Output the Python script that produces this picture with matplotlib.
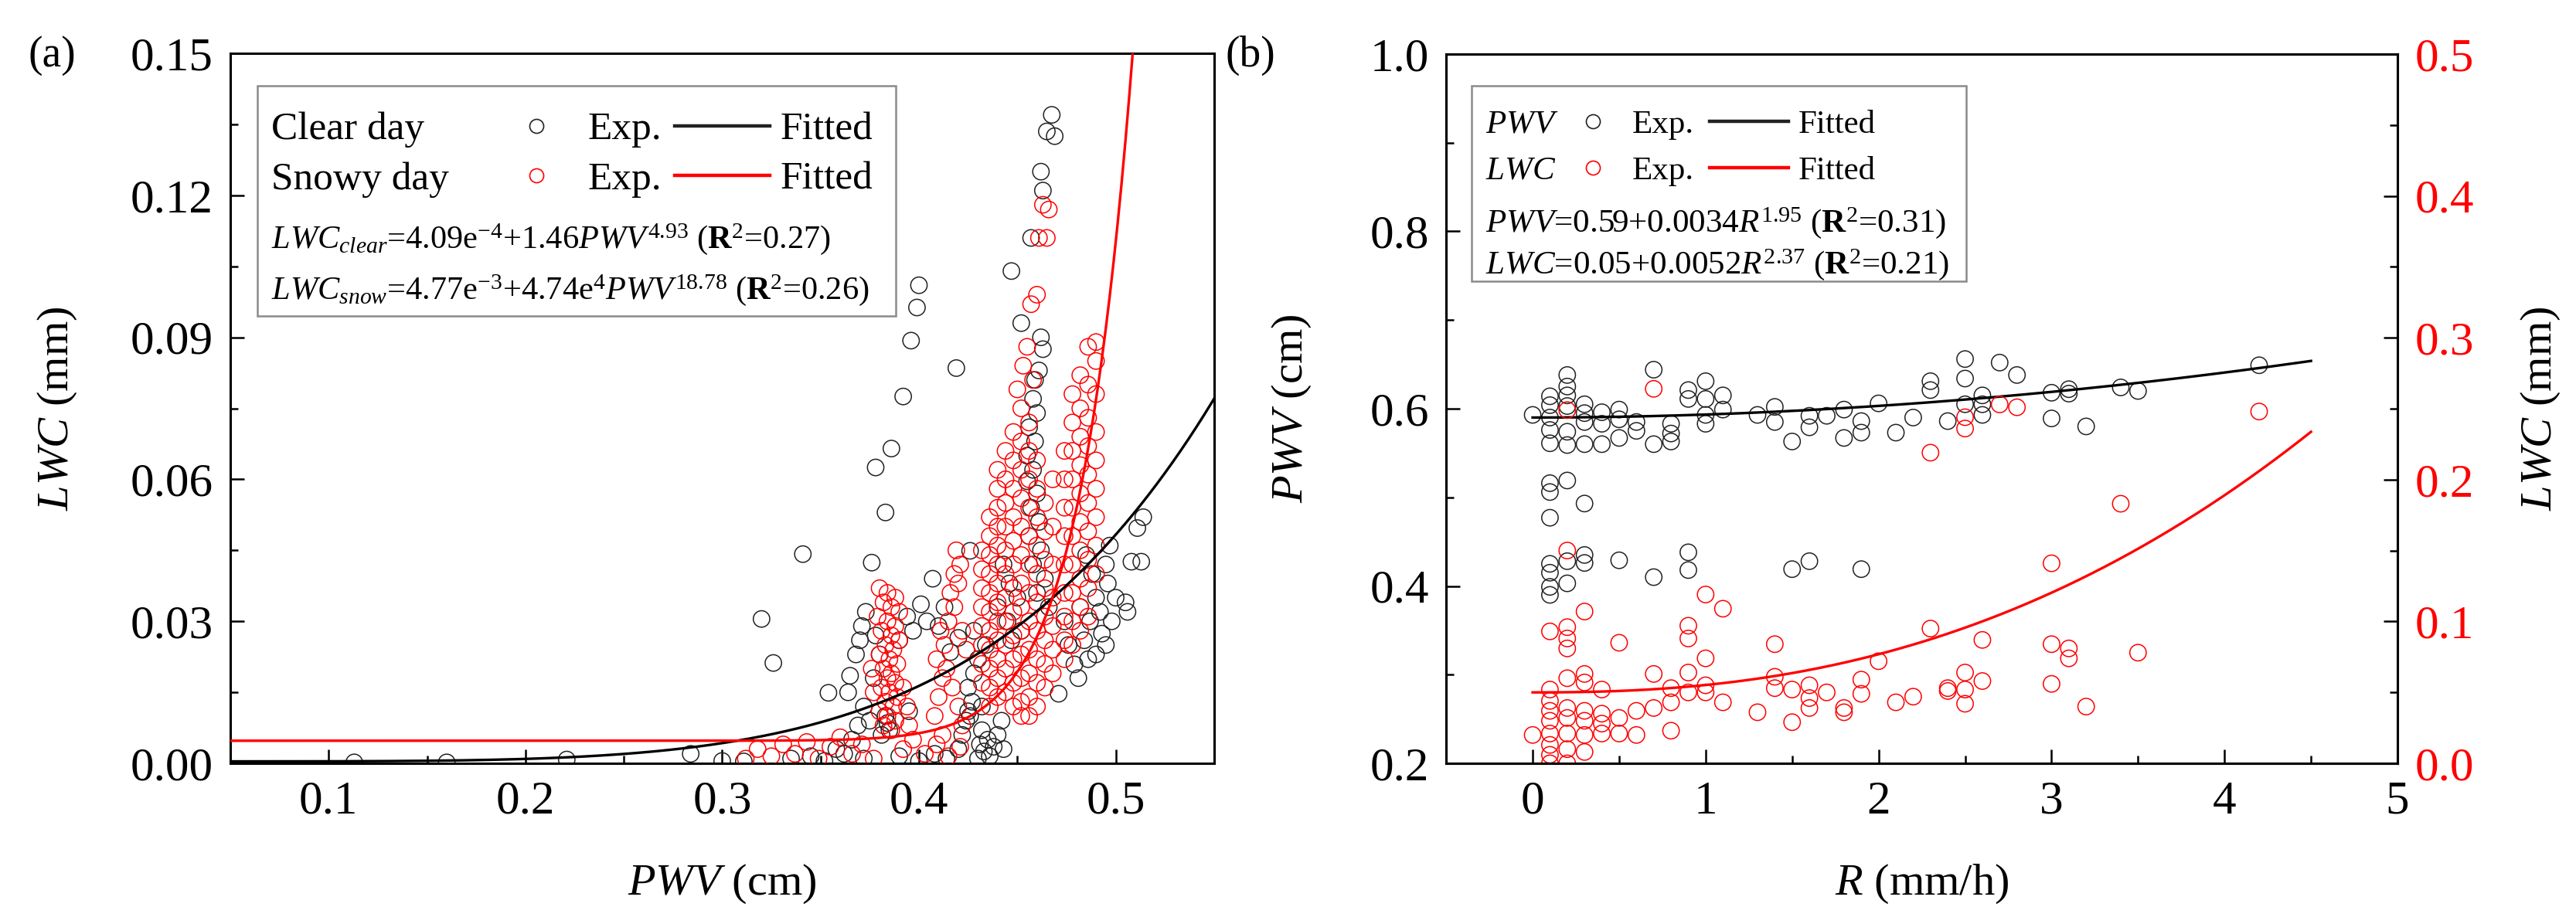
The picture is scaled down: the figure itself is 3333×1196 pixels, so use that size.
import numpy as np
import matplotlib.pyplot as plt
from matplotlib.patches import Rectangle
from matplotlib.ticker import MultipleLocator, FormatStrFormatter

plt.rcParams['font.family'] = ['Liberation Serif', 'DejaVu Serif']
plt.rcParams['mathtext.fontset'] = 'custom'
plt.rcParams['mathtext.rm'] = 'Liberation Serif'
plt.rcParams['mathtext.it'] = 'Liberation Serif:italic'
plt.rcParams['mathtext.bf'] = 'Liberation Serif:bold'

# ---------------- panel (a): LWC vs PWV ----------------
# clear day (PWV cm, LWC mm)
clear_points = [
    (0.113, 0.0002), (0.160, 0.0002), (0.221, 0.0008), (0.284, 0.0020), (0.300, 0.0005), (0.311, 0.0004),
    (0.320, 0.0305), (0.326, 0.0212), (0.341, 0.0442), (0.354, 0.0149), (0.362, 0.0020), (0.372, 0.0010),
    (0.376, 0.0424), (0.378, 0.0625), (0.383, 0.0530), (0.386, 0.0665), (0.392, 0.0775), (0.396, 0.0893),
    (0.399, 0.0963), (0.400, 0.1010), (0.419, 0.0835), (0.426, 0.0449), (0.407, 0.0390), (0.401, 0.0336),
    (0.404, 0.0300), (0.395, 0.0110),
    (0.373, 0.0320), (0.371, 0.0290), (0.370, 0.0260), (0.368, 0.0230), (0.365, 0.0185), (0.364, 0.0150),
    (0.372, 0.0120), (0.375, 0.0090), (0.378, 0.0270), (0.380, 0.0230), (0.377, 0.0180), (0.381, 0.0060),
    (0.369, 0.0080), (0.366, 0.0050), (0.383, 0.0100), (0.384, 0.0085), (0.385, 0.0070),
    (0.394, 0.0310), (0.410, 0.0290), (0.397, 0.0280), (0.390, 0.0260),
    (0.335, 0.0010), (0.345, 0.0015), (0.352, 0.0005), (0.358, 0.0030), (0.390, 0.0015), (0.400, 0.0005),
    (0.408, 0.0020), (0.414, 0.0010),
    (0.420, 0.0030), (0.422, 0.0060), (0.424, 0.0090), (0.425, 0.0110), (0.426, 0.0100), (0.427, 0.0130),
    (0.425, 0.0160), (0.428, 0.0190), (0.430, 0.0010), (0.431, 0.0040), (0.432, 0.0070), (0.433, 0.0025),
    (0.435, 0.0050), (0.436, 0.0015), (0.438, 0.0035), (0.440, 0.0060), (0.442, 0.0090), (0.443, 0.0030),
    (0.430, 0.0220), (0.434, 0.0250), (0.428, 0.0280), (0.432, 0.0120),
    (0.440, 0.0330), (0.445, 0.0300), (0.447, 0.0260), (0.450, 0.0350), (0.452, 0.0280), (0.446, 0.0380),
    (0.443, 0.0420), (0.420, 0.0265), (0.416, 0.0235), (0.413, 0.0330),
    (0.4675, 0.1370), (0.465, 0.1335), (0.469, 0.1325), (0.462, 0.1250), (0.463, 0.1210), (0.457, 0.1110),
    (0.447, 0.1040), (0.452, 0.0930), (0.462, 0.0900), (0.463, 0.0875), (0.461, 0.0830), (0.459, 0.0810),
    (0.458, 0.0770), (0.460, 0.0740), (0.456, 0.0710), (0.459, 0.0680), (0.455, 0.0650), (0.458, 0.0620),
    (0.455, 0.0596), (0.460, 0.0570), (0.457, 0.0540), (0.461, 0.0510), (0.456, 0.0480), (0.462, 0.0450),
    (0.458, 0.0420), (0.464, 0.0390), (0.460, 0.0360), (0.466, 0.0330),
    (0.514, 0.0520), (0.511, 0.0497), (0.508, 0.0426), (0.513, 0.0426), (0.505, 0.0340), (0.506, 0.0320),
    (0.495, 0.0420), (0.496, 0.0380), (0.493, 0.0274), (0.495, 0.0250), (0.479, 0.0209), (0.471, 0.0147),
    (0.490, 0.0350), (0.487, 0.0300), (0.484, 0.0260), (0.490, 0.0230), (0.486, 0.0220), (0.482, 0.0330),
    (0.498, 0.0300), (0.500, 0.0350), (0.492, 0.0320), (0.488, 0.0400), (0.485, 0.0440), (0.497, 0.0460),
    (0.476, 0.0250), (0.481, 0.0180), (0.474, 0.0300),
]

# snowy day (PWV cm, LWC mm)
snow_points = [
    (0.312, 0.0010), (0.318, 0.0030), (0.325, 0.0015), (0.331, 0.0040), (0.337, 0.0020), (0.343, 0.0045),
    (0.349, 0.0010), (0.355, 0.0035), (0.360, 0.0055), (0.366, 0.0020), (0.371, 0.0040), (0.377, 0.0010),
    (0.392, 0.0030), (0.397, 0.0050), (0.403, 0.0020), (0.409, 0.0040), (0.415, 0.0015), (0.421, 0.0035),
    (0.380, 0.0370), (0.384, 0.0360), (0.388, 0.0350), (0.382, 0.0340), (0.386, 0.0330), (0.390, 0.0320),
    (0.379, 0.0310), (0.384, 0.0300), (0.388, 0.0290), (0.381, 0.0280), (0.386, 0.0270), (0.390, 0.0260),
    (0.383, 0.0250), (0.387, 0.0240), (0.380, 0.0230), (0.385, 0.0220), (0.389, 0.0210), (0.382, 0.0200),
    (0.386, 0.0190), (0.384, 0.0180), (0.388, 0.0170), (0.381, 0.0160), (0.385, 0.0150), (0.389, 0.0140),
    (0.383, 0.0130), (0.387, 0.0120), (0.380, 0.0110), (0.384, 0.0100), (0.388, 0.0090), (0.382, 0.0080),
    (0.386, 0.0070), (0.376, 0.0200), (0.377, 0.0150), (0.392, 0.0160), (0.394, 0.0120), (0.395, 0.0080),
    (0.408, 0.0100), (0.410, 0.0140), (0.412, 0.0180), (0.409, 0.0220), (0.413, 0.0250), (0.411, 0.0280),
    (0.415, 0.0300), (0.418, 0.0330), (0.416, 0.0360), (0.420, 0.0380), (0.418, 0.0400), (0.421, 0.0420),
    (0.419, 0.0450), (0.414, 0.0200), (0.417, 0.0160), (0.420, 0.0120), (0.422, 0.0080), (0.424, 0.0240),
    (0.422, 0.0280), (0.412, 0.0060),
    (0.432, 0.045), (0.432, 0.041), (0.432, 0.037), (0.432, 0.033), (0.432, 0.029), (0.432, 0.025),
    (0.432, 0.021), (0.432, 0.017),
    (0.436, 0.052), (0.436, 0.048), (0.436, 0.044), (0.436, 0.040), (0.436, 0.036), (0.436, 0.032),
    (0.436, 0.028), (0.436, 0.024), (0.436, 0.020), (0.436, 0.016), (0.436, 0.012),
    (0.440, 0.062), (0.440, 0.058), (0.440, 0.054), (0.440, 0.050), (0.440, 0.046), (0.440, 0.042),
    (0.440, 0.038), (0.440, 0.034), (0.440, 0.030), (0.440, 0.026), (0.440, 0.022), (0.440, 0.018),
    (0.440, 0.014),
    (0.444, 0.066), (0.444, 0.060), (0.444, 0.055), (0.444, 0.050), (0.444, 0.045), (0.444, 0.040),
    (0.444, 0.035), (0.444, 0.030), (0.444, 0.025), (0.444, 0.020), (0.444, 0.015),
    (0.448, 0.070), (0.448, 0.064), (0.448, 0.058), (0.448, 0.052), (0.448, 0.047), (0.448, 0.042),
    (0.448, 0.037), (0.448, 0.032), (0.448, 0.027), (0.448, 0.022), (0.448, 0.017), (0.448, 0.012),
    (0.452, 0.075), (0.452, 0.068), (0.452, 0.062), (0.452, 0.056), (0.452, 0.050), (0.452, 0.044),
    (0.452, 0.038), (0.452, 0.033), (0.452, 0.028), (0.452, 0.023), (0.452, 0.018), (0.452, 0.013),
    (0.452, 0.010),
    (0.456, 0.072), (0.456, 0.066), (0.456, 0.060), (0.456, 0.054), (0.456, 0.048), (0.456, 0.042),
    (0.456, 0.036), (0.456, 0.030), (0.456, 0.024), (0.456, 0.019), (0.456, 0.014), (0.456, 0.010),
    (0.460, 0.064), (0.460, 0.058), (0.460, 0.052), (0.460, 0.046), (0.460, 0.040), (0.460, 0.034),
    (0.460, 0.028), (0.460, 0.022), (0.460, 0.017), (0.460, 0.012),
    (0.464, 0.055), (0.464, 0.049), (0.464, 0.043), (0.464, 0.037), (0.464, 0.031), (0.464, 0.026),
    (0.464, 0.021), (0.464, 0.016),
    (0.468, 0.060), (0.468, 0.050), (0.468, 0.042), (0.468, 0.035), (0.468, 0.029), (0.468, 0.024),
    (0.468, 0.019),
    (0.474, 0.066), (0.474, 0.060), (0.474, 0.054), (0.474, 0.048), (0.474, 0.042), (0.474, 0.036),
    (0.474, 0.031), (0.474, 0.026), (0.474, 0.022),
    (0.478, 0.078), (0.478, 0.072), (0.478, 0.066), (0.478, 0.060), (0.478, 0.054), (0.478, 0.048),
    (0.478, 0.042), (0.478, 0.036), (0.478, 0.030), (0.478, 0.025),
    (0.482, 0.082), (0.482, 0.075), (0.482, 0.069), (0.482, 0.063), (0.482, 0.057), (0.482, 0.051),
    (0.482, 0.045), (0.482, 0.039), (0.482, 0.033), (0.482, 0.028),
    (0.486, 0.088), (0.486, 0.080), (0.486, 0.073), (0.486, 0.067), (0.486, 0.061), (0.486, 0.055),
    (0.486, 0.049), (0.486, 0.043), (0.486, 0.037), (0.486, 0.031),
    (0.490, 0.089), (0.490, 0.085), (0.490, 0.078), (0.490, 0.070), (0.490, 0.064), (0.490, 0.058),
    (0.490, 0.052), (0.490, 0.046), (0.490, 0.040),
    (0.463, 0.118), (0.466, 0.117), (0.461, 0.111), (0.465, 0.111), (0.460, 0.099), (0.457, 0.097),
    (0.455, 0.088), (0.453, 0.084), (0.450, 0.079), (0.458, 0.081),
]

# fitted curves  y = a + b * x**c
clear_fit = [4.09e-4, 1.46, 4.93]
snow_fit = [4.77e-3, 4.74e4, 18.78]

# ---------------- panel (b): PWV / LWC vs R ----------------
rain_pwv_points = [
    (0.0, 0.593), (0.1, 0.614), (0.1, 0.604), (0.1, 0.590), (0.1, 0.576), (0.1, 0.561), (0.2, 0.638),
    (0.2, 0.625), (0.2, 0.615), (0.2, 0.603), (0.2, 0.574), (0.2, 0.559), (0.3, 0.605), (0.3, 0.595),
    (0.3, 0.585), (0.3, 0.560), (0.4, 0.596), (0.4, 0.583), (0.4, 0.560), (0.5, 0.599), (0.5, 0.588),
    (0.5, 0.567), (0.6, 0.585), (0.6, 0.575), (0.7, 0.644), (0.7, 0.560), (0.8, 0.583), (0.8, 0.572),
    (0.8, 0.563), (0.9, 0.621), (0.9, 0.611), (1.0, 0.631), (1.0, 0.611), (1.0, 0.593), (1.0, 0.583),
    (1.1, 0.615), (1.1, 0.599), (1.3, 0.593), (1.4, 0.602), (1.4, 0.585), (1.5, 0.563), (1.6, 0.592),
    (1.6, 0.579), (1.7, 0.592), (1.8, 0.599), (1.8, 0.567), (1.9, 0.586), (1.9, 0.573), (2.0, 0.606),
    (2.1, 0.573), (2.2, 0.590), (2.3, 0.631), (2.3, 0.621), (2.4, 0.586), (2.5, 0.656), (2.5, 0.634),
    (2.5, 0.605), (2.6, 0.615), (2.6, 0.605), (2.6, 0.593), (2.7, 0.652), (2.8, 0.638), (3.0, 0.618),
    (3.0, 0.589), (3.1, 0.622), (3.1, 0.617), (3.2, 0.580), (3.4, 0.624), (3.5, 0.620), (4.2, 0.649),
    (0.1, 0.516), (0.1, 0.506), (0.1, 0.477), (0.2, 0.519), (0.3, 0.493),
    (0.1, 0.425), (0.1, 0.415), (0.1, 0.399), (0.1, 0.390), (0.2, 0.428), (0.2, 0.403), (0.3, 0.435),
    (0.3, 0.426), (0.5, 0.429), (0.7, 0.410), (0.9, 0.438), (0.9, 0.418), (1.5, 0.419), (1.6, 0.428),
    (1.9, 0.419),
]

rain_lwc_points = [
    (0.2, 0.249), (0.7, 0.264), (2.3, 0.219), (2.5, 0.244), (2.5, 0.236), (2.7, 0.253), (2.8, 0.251),
    (4.2, 0.248), (3.4, 0.183), (3.0, 0.141),
    (0.2, 0.150), (0.3, 0.107), (0.1, 0.093), (0.2, 0.096), (0.2, 0.088), (0.2, 0.081), (0.5, 0.085),
    (0.9, 0.097), (0.9, 0.088), (1.0, 0.119), (1.1, 0.109), (1.4, 0.084),
    (0.2, 0.060), (0.3, 0.063), (0.3, 0.057), (0.4, 0.052), (0.7, 0.063), (0.9, 0.064), (1.0, 0.074),
    (0.8, 0.053), (0.8, 0.043), (0.9, 0.050), (1.0, 0.055), (1.0, 0.050), (1.1, 0.043), (1.3, 0.036),
    (1.4, 0.061), (1.4, 0.053), (1.5, 0.052), (1.5, 0.029), (1.6, 0.055), (1.6, 0.046), (1.6, 0.039),
    (1.7, 0.050), (1.8, 0.039), (1.8, 0.036), (1.9, 0.059), (1.9, 0.049), (2.0, 0.072), (2.1, 0.043),
    (0.0, 0.020), (0.1, 0.052), (0.1, 0.044), (0.1, 0.037), (0.1, 0.030), (0.1, 0.021), (0.1, 0.013),
    (0.1, 0.006), (0.1, 0.000), (0.2, 0.039), (0.2, 0.032), (0.2, 0.021), (0.2, 0.010), (0.2, 0.000),
    (0.3, 0.037), (0.3, 0.030), (0.3, 0.020), (0.3, 0.008), (0.4, 0.035), (0.4, 0.028), (0.4, 0.021),
    (0.5, 0.032), (0.5, 0.021), (0.6, 0.037), (0.6, 0.020), (0.7, 0.039), (0.8, 0.023),
    (2.2, 0.047), (2.3, 0.095), (2.4, 0.053), (2.4, 0.051), (2.5, 0.064), (2.5, 0.052), (2.5, 0.042),
    (2.6, 0.087), (2.6, 0.058), (3.0, 0.084), (3.0, 0.056), (3.1, 0.081), (3.1, 0.074), (3.2, 0.040),
    (3.5, 0.078),
]

pwv_fit = [0.59, 0.0034, 1.95]
lwc_fit = [0.05, 0.0052, 2.37]

# ---------------- drawing ----------------
clear_x, clear_y = np.array(clear_points).T
snow_x, snow_y = np.array(snow_points).T
rp_x, rp_y = np.array(rain_pwv_points).T
rl_x, rl_y = np.array(rain_lwc_points).T

RED = '#ff0000'
BLK = '#222222'
MS = 235      # scatter marker area
FS_TICK = 44
FS_LAB = 42


def power(p, x):
    return p[0] + p[1] * x ** p[2]


def style_axis(ax):
    for s in ax.spines.values():
        s.set_linewidth(2.2)
    ax.tick_params(which='major', direction='in', length=13, width=1.8, labelsize=FS_TICK, pad=16)
    ax.tick_params(which='minor', direction='in', length=7, width=1.8)


def legend_rows(ax, box, rows, eqs, fs_row, fs_eq, xs):
    # box: x0, y0, x1, y1 in axes fraction; xs: label, marker, exp, line0, line1, fitted
    x0, y0, x1, y1 = box
    ax.add_patch(Rectangle((x0, y0), x1 - x0, y1 - y0, transform=ax.transAxes,
                           fc='white', ec='#8a8a8a', lw=1.8, zorder=6))
    for label, color, yy in rows:
        ax.text(xs[0], yy, label, transform=ax.transAxes, fontsize=fs_row,
                va='center_baseline', ha='left', zorder=7)
        ax.plot([xs[1]], [yy], 'o', transform=ax.transAxes, ms=13, mfc='none',
                mec=color, mew=1.2, zorder=7, clip_on=False)
        ax.text(xs[2], yy, 'Exp.', transform=ax.transAxes, fontsize=fs_row,
                va='center_baseline', ha='left', zorder=7)
        ax.plot([xs[3], xs[4]], [yy, yy], '-', transform=ax.transAxes, color=color,
                lw=3.2, zorder=7, clip_on=False)
        ax.text(xs[5], yy, 'Fitted', transform=ax.transAxes, fontsize=fs_row,
                va='center_baseline', ha='left', zorder=7)
    for txt, yy in eqs:
        ax.text(xs[0], yy, txt, transform=ax.transAxes, fontsize=fs_eq,
                va='center_baseline', ha='left', zorder=7)


fig = plt.figure(figsize=(33.33, 11.96), dpi=100)

# panel (a)
ax1 = fig.add_axes([0.0894, 0.1739, 0.3819, 0.7684])
ax1.scatter(clear_x, clear_y, s=MS, facecolors='none', edgecolors=BLK, linewidths=1.1, zorder=2)
ax1.scatter(snow_x, snow_y, s=MS, facecolors='none', edgecolors=RED, linewidths=1.1, zorder=3)
xx = np.linspace(0.05, 0.55, 500)
ax1.plot(xx, power(clear_fit, xx), color='black', lw=2.4, zorder=4)
ax1.plot(xx, power(snow_fit, xx), color=RED, lw=2.4, zorder=4)
ax1.set_xlim(0.05, 0.55)
ax1.set_ylim(0, 0.15)
ax1.xaxis.set_major_locator(MultipleLocator(0.1))
ax1.xaxis.set_minor_locator(MultipleLocator(0.05))
ax1.yaxis.set_major_locator(MultipleLocator(0.03))
ax1.yaxis.set_minor_locator(MultipleLocator(0.015))
ax1.xaxis.set_major_formatter(FormatStrFormatter('%.1f'))
ax1.yaxis.set_major_formatter(FormatStrFormatter('%.2f'))
style_axis(ax1)
ax1.set_xlabel('$PWV$ (cm)', fontsize=FS_LAB)
ax1.set_ylabel('$LWC$ (mm)', fontsize=FS_LAB)
ax1.xaxis.set_label_coords(0.5, -0.14)
ax1.yaxis.set_label_coords(-0.154, 0.5)

legend_rows(ax1, (0.0275, 0.630, 0.6764, 0.9543),
            [('Clear day', BLK, 0.898), ('Snowy day', RED, 0.828)],
            [(r'$LWC_{clear}$=4.09e$^{-4}$+1.46$PWV^{4.93}$ ($\mathbf{R}^{2}$=0.27)', 0.744),
             (r'$LWC_{snow}$=4.77e$^{-3}$+4.74e$^{4}$$PWV^{18.78}$ ($\mathbf{R}^{2}$=0.26)', 0.673)],
            37, 30.5, [0.0416, 0.311, 0.3637, 0.4517, 0.5483, 0.5593])

# panel (b)
ax2 = fig.add_axes([0.5614, 0.1739, 0.3693, 0.7676])
ax3 = ax2.twinx()
ax2.scatter(rp_x, rp_y, s=MS, facecolors='none', edgecolors=BLK, linewidths=1.1, zorder=2)
ax3.scatter(rl_x, rl_y, s=MS, facecolors='none', edgecolors=RED, linewidths=1.1, zorder=2)
rr = np.linspace(0, 4.5, 300)
ax2.plot(rr, power(pwv_fit, rr), color='black', lw=2.4, zorder=4)
ax3.plot(rr, power(lwc_fit, rr), color=RED, lw=2.4, zorder=4)
ax2.set_xlim(-0.5, 5)
ax2.set_ylim(0.2, 1.0)
ax3.set_ylim(0, 0.5)
ax2.xaxis.set_major_locator(MultipleLocator(1))
ax2.xaxis.set_minor_locator(MultipleLocator(0.5))
ax2.yaxis.set_major_locator(MultipleLocator(0.2))
ax2.yaxis.set_minor_locator(MultipleLocator(0.1))
ax2.yaxis.set_major_formatter(FormatStrFormatter('%.1f'))
ax3.yaxis.set_major_locator(MultipleLocator(0.1))
ax3.yaxis.set_minor_locator(MultipleLocator(0.05))
ax3.yaxis.set_major_formatter(FormatStrFormatter('%.1f'))
style_axis(ax2)
style_axis(ax3)
ax3.tick_params(axis='y', labelcolor=RED)
ax2.set_xlabel('$R$ (mm/h)', fontsize=FS_LAB)
ax2.set_ylabel('$PWV$ (cm)', fontsize=FS_LAB)
ax3.set_ylabel('$LWC$ (mm)', fontsize=FS_LAB, rotation=90)
ax2.xaxis.set_label_coords(0.5, -0.14)
ax2.yaxis.set_label_coords(-0.14, 0.5)
ax3.yaxis.set_label_coords(1.128, 0.5)

legend_rows(ax3, (0.0268, 0.6797, 0.5467, 0.9553),
            [('$PWV$', BLK, 0.905), ('$LWC$', RED, 0.840)],
            [(r'$PWV$=0.59+0.0034$R^{1.95}$ ($\mathbf{R}^{2}$=0.31)', 0.768),
             (r'$LWC$=0.05+0.0052$R^{2.37}$ ($\mathbf{R}^{2}$=0.21)', 0.709)],
            31, 31, [0.0414, 0.1543, 0.1958, 0.277, 0.3599, 0.3704])

fig.text(67 / 3333, 1 - 72 / 1196, '(a)', fontsize=40, ha='center', va='center')
fig.text(1618 / 3333, 1 - 72 / 1196, '(b)', fontsize=40, ha='center', va='center')

fig.savefig('out.png', dpi=100)
